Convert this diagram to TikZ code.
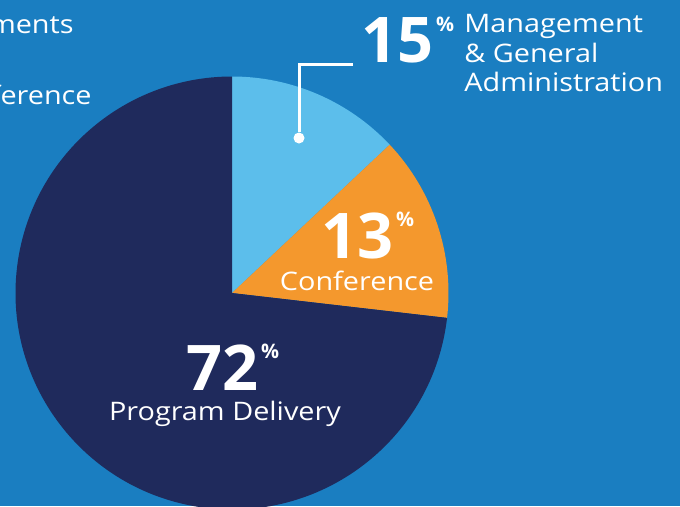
\documentclass[tikz,border=0pt]{standalone}
\usepackage{fontspec}
\setmainfont{Open Sans}
\newfontfamily\widesans[FakeStretch=1.13]{Open Sans}
\usepackage{tikz}
\usepackage{xcolor}
\usetikzlibrary{positioning,calc}

\definecolor{bgblue}{HTML}{1A7EC1}
\definecolor{skyblue}{HTML}{5CBEEB}
\definecolor{orangeslice}{HTML}{F4982D}
\definecolor{navyslice}{HTML}{1F2A5C}

\tikzset{
  bignum/.style={inner sep=0pt, text=white, font=\fontsize{63}{63}\selectfont\bfseries},
  pctsign/.style={inner sep=0pt, text=white, font=\fontsize{20}{20}\selectfont\bfseries},
  label/.style={inner sep=0pt, text=white, align=left, font=\widesans\fontsize{25.5}{29.5}\selectfont},
}

\begin{document}
\begin{tikzpicture}[x=1pt, y=-1pt, thick]
    % Background
    \useasboundingbox (0,0) rectangle (680,506);
    \clip (0,0) rectangle (680,506);
    \fill[bgblue] (0,0) rectangle (680,506);

    % Pie slices
    \coordinate (centre) at (232,293);
    \def\rad{216.5}
    \fill[skyblue] (centre) -- ++(-90:\rad) arc[start angle=-90, end angle=-43.25, radius=\rad] -- cycle;
    \fill[orangeslice] (centre) -- ++(-43.25:\rad) arc[start angle=-43.25, end angle=6.6, radius=\rad] -- cycle;
    \fill[navyslice] (centre) -- ++(6.6:\rad) arc[start angle=6.6, end angle=270, radius=\rad] -- cycle;

    % Cut-off labels on the left
    \node[label, anchor=base east] (mentslbl) at (74,33) {ments};
    \node[label, anchor=base east] (ferlbl) at (92,104) {ference};

    % Management & General Administration
    \node[bignum, anchor=base west] (mganum) at (361,62) {15};
    \node[pctsign, anchor=north west] (mgapct) at ([xshift=2pt]mganum.north east) {\%};
    \node[label, anchor=north west] (mgalbl) at (464,14) {Management\\\& General\\Administration};
    \node[circle, fill=white, inner sep=0pt, minimum size=11pt] (dot) at (299,138) {};
    \draw[white, line width=3pt] ([xshift=-8pt, yshift=-2pt]mganum.base west) -| (dot);

    % Conference
    \node[bignum, anchor=base west] (confnum) at (321,258) {13};
    \node[pctsign, anchor=north west] (confpct) at ([xshift=2pt]confnum.north east) {\%};
    \node[label, anchor=base] (conflbl) at (357,290) {Conference};

    % Program Delivery
    \node[bignum, anchor=base west] (prognum) at (186,390) {72};
    \node[pctsign, anchor=north west] (progpct) at ([xshift=2pt]prognum.north east) {\%};
    \node[label, anchor=base] (proglbl) at (225,420) {Program Delivery};
\end{tikzpicture}
\end{document}
